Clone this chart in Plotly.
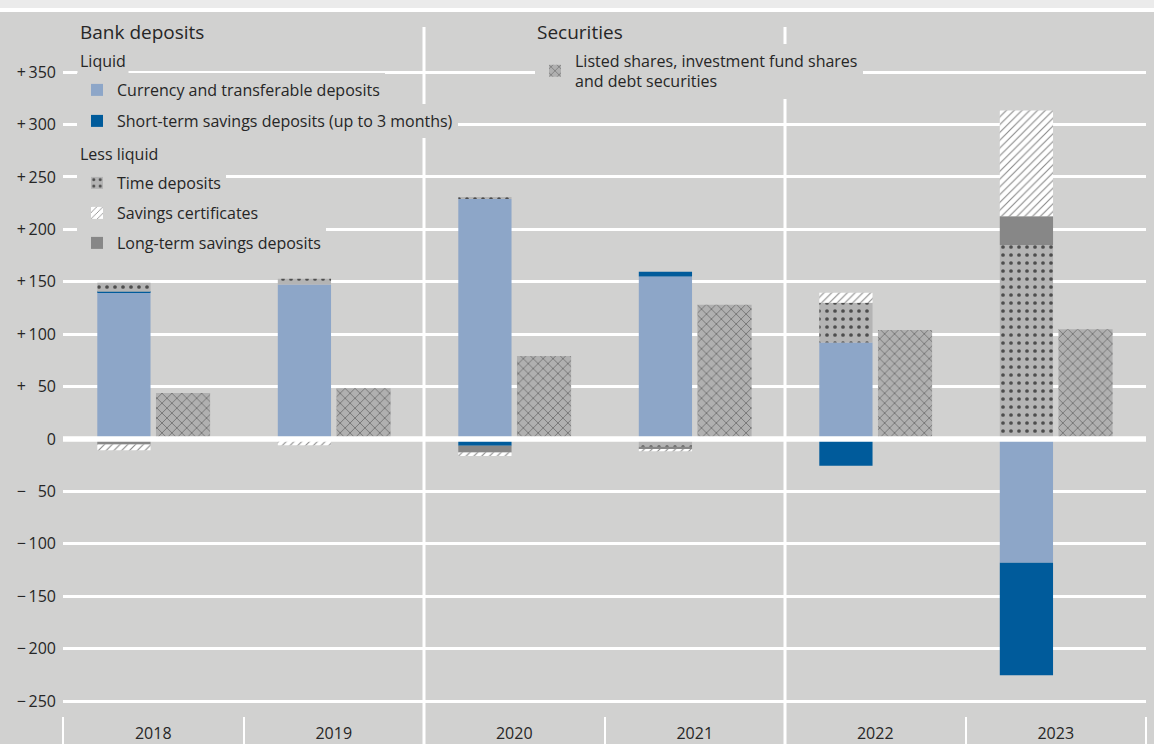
import plotly.graph_objects as go

# ---------------- data ----------------
years = ["2018", "2019", "2020", "2021", "2022", "2023"]

currency_transferable = [139.5, 147.5, 229.0, 155.0, 92.0, -118.0]
short_term_savings = [1.0, 0.0, -6.5, 4.5, -25.5, -107.5]
time_deposits = [8.6, 5.5, 1.5, -7.5, 38.0, 185.0]
long_term_savings = [-5.2, 0.0, -6.3, -2.5, 0.0, 27.5]
savings_certificates = [-5.5, -6.0, -3.5, -1.6, 9.5, 101.0]
securities = [43.9, 48.4, 79.2, 128.1, 104.0, 104.7]

y_tickvals = [-250, -200, -150, -100, -50, 0, 50, 100, 150, 200, 250, 300, 350]
y_ticktext = ["\u2212\u2009250", "\u2212\u2009200", "\u2212\u2009150", "\u2212\u2009100",
              "\u2212\u2009\u200750", "0", "+\u2009\u200750", "+\u2009100", "+\u2009150",
              "+\u2009200", "+\u2009250", "+\u2009300", "+\u2009350"]

# ---------------- styling ----------------
BG = "#d1d1d0"
TXT = "#262626"
FONT = "Open Sans"

# plot area in pixels (for placing annotations / legends)
L, R, T, B = 63, 8, 27, 28
W, H = 1154, 744
PW, PH = W - L - R, H - T - B


def px_x(px):
    return (px - L) / PW


def px_y(py):
    return (H - B - py) / PH


bank_offset, bank_width = -0.31, 0.295
sec_offset, sec_width = 0.015, 0.30

fig = go.Figure()

fig.add_trace(go.Bar(
    x=years, y=currency_transferable, name="Currency and transferable deposits",
    marker=dict(color="#8da6c8", line=dict(width=0)),
    offset=bank_offset, width=bank_width, legend="legend"))
fig.add_trace(go.Bar(
    x=years, y=short_term_savings, name="Short-term savings deposits (up to 3 months)",
    marker=dict(color="#005b9b", line=dict(width=0)),
    offset=bank_offset, width=bank_width, legend="legend2"))
fig.add_trace(go.Bar(
    x=years, y=time_deposits, name="Time deposits",
    marker=dict(color="#b4b4b4", line=dict(width=0),
                pattern=dict(shape=".", fgcolor="#4d4d4d", bgcolor="#b4b4b4",
                             size=8, solidity=0.17, fillmode="replace")),
    offset=bank_offset, width=bank_width, legend="legend3"))
fig.add_trace(go.Bar(
    x=years, y=long_term_savings, name="Long-term savings deposits",
    marker=dict(color="#878787", line=dict(width=0)),
    offset=bank_offset, width=bank_width, legend="legend5"))
fig.add_trace(go.Bar(
    x=years, y=savings_certificates, name="Savings certificates",
    marker=dict(color="#ffffff", line=dict(width=0),
                pattern=dict(shape="/", fgcolor="#8a8a8a", bgcolor="#ffffff",
                             size=5.5, solidity=0.2, fillmode="replace")),
    offset=bank_offset, width=bank_width, legend="legend4"))
fig.add_trace(go.Bar(
    x=years, y=securities,
    name="Listed shares, investment fund shares<br>and debt securities",
    marker=dict(color="#b0b0b0", line=dict(width=0),
                pattern=dict(shape="x", fgcolor="#4a4a4a", bgcolor="#b0b0b0",
                             size=7, solidity=0.15, fillmode="replace")),
    offset=sec_offset, width=sec_width, xaxis="x2", legend="legend6"))


def leg(py, px_left=77, size=16):
    return dict(x=px_x(px_left), y=px_y(py), xanchor="left", yanchor="middle",
                bgcolor=BG, borderwidth=0, font=dict(family=FONT, size=size, color=TXT),
                itemwidth=30, tracegroupgap=0, itemclick=False, itemdoubleclick=False)


fig.update_layout(
    width=W, height=H, autosize=False,
    margin=dict(l=L, r=R, t=T, b=B, pad=0),
    paper_bgcolor=BG, plot_bgcolor=BG,
    barmode="relative",
    font=dict(family=FONT, size=16, color=TXT),
    showlegend=True,
    legend=leg(90),
    legend2=leg(121),
    legend3=leg(183),
    legend4=leg(213),
    legend5=leg(243),
    legend6=leg(71, px_left=535),
    xaxis=dict(type="category", range=[-0.5, 5.5], showgrid=False, zeroline=False,
               showline=False, ticks="outside", tickson="boundaries", ticklen=28,
               tickwidth=2, tickcolor="white", ticklabelstandoff=6, automargin=False,
               tickfont=dict(family=FONT, size=16, color=TXT)),
    xaxis2=dict(type="category", overlaying="x", matches="x", visible=False,
                automargin=False),
    yaxis=dict(range=[-264.3, 393.1], tickvals=y_tickvals, ticktext=y_ticktext,
               showgrid=True, gridcolor="white", gridwidth=3, zeroline=False,
               ticks="", ticklabelstandoff=6, automargin=False,
               tickfont=dict(family=FONT, size=16, color=TXT)),
)

shapes = [
    # zero line drawn over the bars
    dict(type="line", xref="paper", yref="y", x0=0, x1=1, y0=0, y1=0,
         line=dict(color="white", width=5.5), layer="above"),
    # full-height separators
    dict(type="line", xref="x", yref="paper", x0=1.5, x1=1.5, y0=-B / PH, y1=1,
         line=dict(color="white", width=3), layer="below"),
    dict(type="line", xref="x", yref="paper", x0=3.5, x1=3.5, y0=-B / PH, y1=1,
         line=dict(color="white", width=3), layer="below"),
    # top band
    dict(type="rect", xref="paper", yref="paper", x0=px_x(0), x1=px_x(W),
         y0=px_y(12), y1=px_y(8), fillcolor="white", line=dict(width=0), layer="above"),
    dict(type="rect", xref="paper", yref="paper", x0=px_x(0), x1=px_x(W),
         y0=px_y(8), y1=px_y(-2), fillcolor="#ebebeb", line=dict(width=0), layer="above"),
]
fig.update_layout(shapes=shapes)

annots = [
    ("Bank deposits", 77, 32, 19),
    ("Liquid", 77, 61, 16),
    ("Less liquid", 77, 154, 16),
    ("Securities", 534, 32, 19),
]
fig.update_layout(annotations=[
    dict(text=t, x=px_x(x), y=px_y(y), xref="paper", yref="paper",
         xanchor="left", yanchor="middle", showarrow=False,
         font=dict(family=FONT, size=s, color=TXT), bgcolor=BG, borderpad=2)
    for t, x, y, s in annots
])

fig.write_html("out.html")
